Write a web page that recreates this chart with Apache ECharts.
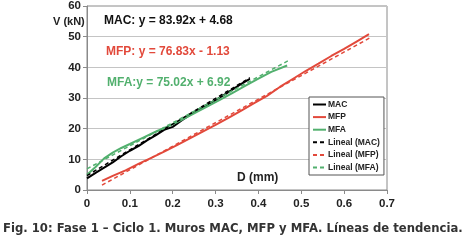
<!DOCTYPE html>
<html>
<head>
<meta charset="utf-8">
<script src="https://cdn.jsdelivr.net/npm/echarts@6/dist/echarts.min.js"></script>
<style>
  html, body { margin: 0; padding: 0; background: #fff; }
  #chart { width: 468px; height: 241px; }
</style>
</head>
<body>
<div id="chart"></div>
<script>
// measured curves (D in mm, V in kN)
const macX = [0, 0.02, 0.04, 0.06, 0.08, 0.10, 0.12, 0.14, 0.16, 0.18, 0.20, 0.22, 0.24, 0.26, 0.28, 0.30, 0.32, 0.34, 0.36, 0.38];
const macY = [3.8, 5.6, 7.3, 9.0, 11.0, 12.8, 14.3, 16.2, 17.8, 19.6, 20.6, 22.6, 24.5, 26.3, 27.8, 29.3, 31.0, 32.8, 34.6, 36.2];

const mfpX = [0.035, 0.06, 0.09, 0.12, 0.15, 0.18, 0.21, 0.24, 0.27, 0.30, 0.33, 0.36, 0.39, 0.42, 0.45, 0.48, 0.51, 0.54, 0.57, 0.60, 0.63, 0.658];
const mfpY = [3.0, 4.6, 6.4, 8.5, 10.5, 12.5, 14.6, 16.8, 19.0, 21.2, 23.5, 25.9, 28.3, 30.7, 33.6, 36.2, 38.8, 41.2, 43.7, 46.0, 48.5, 50.8];

const mfaX = [0, 0.02, 0.04, 0.06, 0.08, 0.10, 0.13, 0.16, 0.19, 0.22, 0.25, 0.28, 0.31, 0.34, 0.37, 0.40, 0.43, 0.467];
const mfaY = [5.0, 7.5, 10.3, 12.2, 13.7, 15.0, 17.0, 19.0, 20.8, 22.8, 25.0, 27.2, 29.4, 31.7, 34.0, 36.3, 38.5, 40.6];

// trend line end points
const macTrendX = [0, 0.38];
const macTrendY = [4.7, 36.6];
const mfpTrendX = [0.035, 0.66];
const mfpTrendY = [1.6, 49.6];
const mfaTrendX = [0, 0.47];
const mfaTrendY = [6.9, 42.2];

const xTicks = [0, 0.7, 0.1];
const yTicks = [0, 60, 10];

const BLACK = '#000000';
const RED = '#e2493b';
const GREEN = '#52b06e';
const FONT = 'Liberation Sans, Arial, sans-serif';

function pairs(xs, ys) {
  return xs.map((x, i) => [x, ys[i]]);
}

const chart = echarts.init(document.getElementById('chart'));

function curve(name, xs, ys, color) {
  return {
    name, type: 'line', symbol: 'none', data: pairs(xs, ys),
    lineStyle: { color, width: 2 }, itemStyle: { color }, z: 3
  };
}
function trend(name, xs, ys, color) {
  return {
    name, type: 'line', symbol: 'none', data: pairs(xs, ys),
    lineStyle: { color, width: 1.5, type: [4, 3] }, itemStyle: { color }, z: 4
  };
}

const option = {
  animation: false,
  grid: {
    left: 87, right: 81, top: 5, bottom: 51,
    show: true, borderColor: '#8a8a8a', borderWidth: 1
  },
  xAxis: {
    type: 'value', min: xTicks[0], max: xTicks[1], interval: xTicks[2],
    axisLine: { lineStyle: { color: '#8a8a8a' } },
    axisTick: { length: 4, lineStyle: { color: '#8a8a8a' } },
    splitLine: { show: false },
    axisLabel: { color: '#222', fontFamily: FONT, fontWeight: 'bold', fontSize: 11.5, margin: 8 }
  },
  yAxis: {
    type: 'value', min: yTicks[0], max: yTicks[1], interval: yTicks[2],
    axisLine: { show: true, lineStyle: { color: '#8a8a8a' } },
    axisTick: { show: true, length: 4, lineStyle: { color: '#8a8a8a' } },
    splitLine: { lineStyle: { color: '#c4c4c4' } },
    axisLabel: { color: '#222', fontFamily: FONT, fontWeight: 'bold', fontSize: 11.5, margin: 6 }
  },
  legend: {
    orient: 'vertical', left: 309, top: 97,
    backgroundColor: '#fff', borderColor: '#555', borderWidth: 1,
    padding: [3, 4, 3, 3], itemWidth: 13, itemHeight: 9, itemGap: 3.6,
    selectedMode: false,
    itemStyle: { opacity: 0 },
    textStyle: { fontFamily: FONT, fontWeight: 'bold', fontSize: 8.5, color: '#222', padding: [0, 0, 0, -3] },
    data: ['MAC', 'MFP', 'MFA', 'Lineal (MAC)', 'Lineal (MFP)', 'Lineal (MFA)']
  },
  graphic: [
    { type: 'text', left: 53, top: 16, style: { text: 'V (kN)', font: 'bold 11px ' + FONT, fill: '#222' } },
    { type: 'text', left: 237, top: 172, style: { text: 'D (mm)', font: 'bold 12px ' + FONT, fill: '#222' } },
    { type: 'text', left: 104, top: 15, style: { text: 'MAC: y = 83.92x + 4.68', font: 'bold 12px ' + FONT, fill: '#111' } },
    { type: 'text', left: 106, top: 46, style: { text: 'MFP: y = 76.83x - 1.13', font: 'bold 12px ' + FONT, fill: RED } },
    { type: 'text', left: 107, top: 77, style: { text: 'MFA:y = 75.02x + 6.92', font: 'bold 12px ' + FONT, fill: GREEN } },
    { type: 'text', left: 3, top: 223, style: { text: 'Fig. 10: Fase 1 \u2013 Ciclo 1. Muros MAC, MFP y MFA. L\u00edneas de tendencia.', font: 'bold 11.65px DejaVu Sans', fill: '#333' } }
  ],
  series: [
    curve('MAC', macX, macY, BLACK),
    curve('MFP', mfpX, mfpY, RED),
    curve('MFA', mfaX, mfaY, GREEN),
    trend('Lineal (MAC)', macTrendX, macTrendY, BLACK),
    trend('Lineal (MFP)', mfpTrendX, mfpTrendY, RED),
    trend('Lineal (MFA)', mfaTrendX, mfaTrendY, GREEN)
  ]
};

chart.setOption(option);
</script>
</body>
</html>
